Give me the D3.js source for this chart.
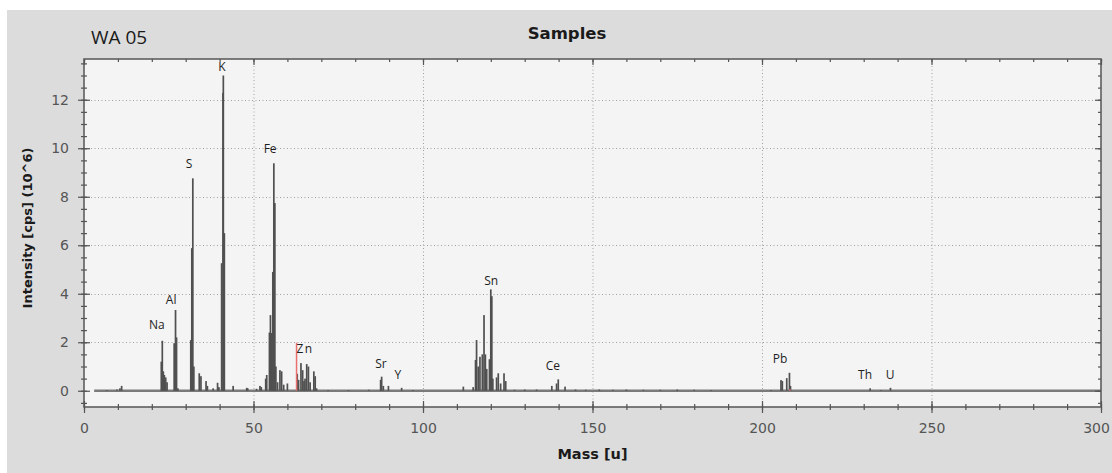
<!DOCTYPE html>
<html>
<head>
<meta charset="utf-8">
<script src="https://cdn.jsdelivr.net/npm/d3@7"></script>
<style>
  html, body { margin: 0; padding: 0; background: #ffffff; }
  svg { display: block; }
</style>
</head>
<body>
<script>
// spectrum sticks: [mass u, intensity 10^6 cps]
const spectrum = [
  [6.7, 0.03], [9.7, 0.05], [10.6, 0.1], [11.1, 0.2],
  [22.8, 1.2], [23.1, 2.06], [23.4, 0.8], [23.7, 0.65], [24.1, 0.55], [24.5, 0.35],
  [26.6, 1.96], [27.0, 3.33], [27.3, 2.2], [27.7, 0.1],
  [31.5, 2.09], [31.8, 5.88], [32.1, 8.76], [32.4, 1.0],
  [34.0, 0.72], [34.5, 0.6], [36.0, 0.4], [36.4, 0.2], [38.1, 0.1], [39.4, 0.33], [39.8, 0.15],
  [40.6, 5.26], [41.0, 12.28], [41.1, 13.0], [41.4, 6.5],
  [44.0, 0.2], [48.0, 0.12], [48.3, 0.1], [50.9, 0.08], [51.9, 0.2], [52.3, 0.15],
  [53.6, 0.5], [53.9, 0.65], [54.7, 2.4], [55.0, 3.12], [55.4, 2.38], [55.7, 4.9],
  [56.0, 9.38], [56.3, 7.74], [56.6, 1.0],
  [57.1, 0.35], [57.8, 0.85], [58.3, 0.8], [58.9, 0.25], [60.0, 0.3],
  [62.9, 0.7], [63.3, 0.45], [64.0, 1.14], [64.5, 0.85], [64.9, 0.4], [65.2, 0.5],
  [65.7, 1.1], [66.2, 1.0], [66.7, 0.35], [67.8, 0.8], [68.2, 0.6], [68.6, 0.1],
  [72.0, 0.03], [78.0, 0.03], [84.0, 0.04],
  [87.5, 0.45], [87.8, 0.58], [88.3, 0.2], [89.8, 0.2], [93.7, 0.12], [97.0, 0.03],
  [111.9, 0.17], [114.8, 0.15], [115.5, 1.27], [115.8, 2.09], [116.3, 1.0], [116.8, 1.4],
  [117.5, 1.5], [118.0, 3.12], [118.4, 1.5], [118.8, 0.9], [119.6, 1.3], [120.0, 4.18],
  [120.3, 3.9], [120.6, 0.5], [121.7, 0.55], [122.2, 0.72], [122.9, 0.3], [123.9, 0.72], [124.4, 0.4],
  [127, 0.04], [130, 0.05], [133.5, 0.05], [138.0, 0.2], [139.4, 0.3], [139.9, 0.47], [141.9, 0.17],
  [145, 0.05], [148, 0.04], [152, 0.05], [156, 0.04], [160, 0.05], [165, 0.04],
  [170, 0.04], [175, 0.05], [180, 0.04], [185, 0.03],
  [202.7, 0.03], [205.6, 0.44], [206.0, 0.4], [207.3, 0.52], [208.1, 0.74], [208.4, 0.2],
  [231.9, 0.1], [235.0, 0.03], [237.9, 0.12]
];

// red marker lines
const markers = [[62.7, 1.98], [208.2, 0.06]];

// element labels: [name, mass, intensity]
const peakLabels = [
  ["Na", 21.5, 2.54], ["Al", 25.7, 3.58], ["S", 31.0, 9.18], ["K", 40.7, 13.2],
  ["Fe", 54.9, 9.8], ["Zn", 65.2, 1.55], ["Sr", 87.6, 0.93], ["Y", 92.6, 0.48],
  ["Sn", 120.1, 4.36], ["Ce", 138.3, 0.85], ["Pb", 205.3, 1.14], ["Th", 230.4, 0.48],
  ["U", 237.8, 0.48]
];

const xTicks = [0, 50, 100, 150, 200, 250, 300];
const yTicks = [0, 2, 4, 6, 8, 10, 12];
const xDomain = [0, 300];
const yDomain = [-0.67, 13.68];

const width = 1112, height = 473;
const plot = { left: 84, right: 1101, top: 59, bottom: 407 };

const svg = d3.select("body").append("svg")
  .attr("width", width)
  .attr("height", height);

// grey panel
svg.append("rect")
  .attr("x", 7).attr("y", 10)
  .attr("width", width - 7).attr("height", height - 10)
  .attr("fill", "#dcdcdc");

const x = d3.scaleLinear().domain(xDomain).range([plot.left, plot.right]);
const y = d3.scaleLinear().domain(yDomain).range([plot.bottom, plot.top]);

svg.append("rect")
  .attr("x", plot.left).attr("y", plot.top)
  .attr("width", plot.right - plot.left).attr("height", plot.bottom - plot.top)
  .attr("fill", "#f4f4f4");

// dotted grid
const grid = svg.append("g").attr("stroke", "#a0a0a0").attr("stroke-width", 1)
  .attr("stroke-dasharray", "1,2.5");
grid.selectAll(".gx")
  .data(xTicks.filter(d => d > 0 && d < 300))
  .enter().append("line")
  .attr("x1", d => x(d) + 0.5).attr("x2", d => x(d) + 0.5)
  .attr("y1", plot.top).attr("y2", plot.bottom);
grid.selectAll(".gy")
  .data(yTicks.filter(d => d > 0))
  .enter().append("line")
  .attr("y1", d => Math.round(y(d)) + 0.5).attr("y2", d => Math.round(y(d)) + 0.5)
  .attr("x1", plot.left).attr("x2", plot.right);

// baseline of the spectrum
svg.append("line")
  .attr("x1", x(3)).attr("x2", plot.right)
  .attr("y1", y(0)).attr("y2", y(0))
  .attr("stroke", "#7a7a7a").attr("stroke-width", 2.5);

// spectrum sticks
svg.append("g").selectAll("rect")
  .data(spectrum)
  .enter().append("rect")
  .attr("x", d => x(d[0]) - 0.85)
  .attr("width", 1.7)
  .attr("y", d => y(d[1]))
  .attr("height", d => y(0) - y(d[1]))
  .attr("fill", "#505050");

// red markers
svg.append("g").selectAll("line")
  .data(markers)
  .enter().append("line")
  .attr("x1", d => x(d[0])).attr("x2", d => x(d[0]))
  .attr("y1", y(0)).attr("y2", d => y(d[1]))
  .attr("stroke", "#e87070").attr("stroke-width", 1.5);

// element labels
svg.append("g").selectAll("text")
  .data(peakLabels)
  .enter().append("text")
  .attr("x", d => x(d[1]))
  .attr("y", d => y(d[2]))
  .attr("text-anchor", "middle")
  .attr("font-family", "Open Sans, DejaVu Sans, sans-serif")
  .attr("font-size", 12)
  .attr("letter-spacing", d => d[0] === "Zn" ? 1.5 : 0)
  .attr("fill", "#1e1e1e")
  .text(d => d[0]);

// axes: major ticks both sides, minor ticks smaller
const frameColor = "#555555";
function styleAxis(g) {
  g.select(".domain").remove();
  g.selectAll("line").attr("stroke", frameColor).attr("stroke-width", 1.2);
  g.selectAll("text")
    .attr("font-family", "DejaVu Sans, sans-serif")
    .attr("font-size", 14)
    .attr("fill", "#555555");
}
const xMinor = d3.range(0, 301, 10);
const yMinor = d3.range(-0.5, 13.6, 0.5);

svg.append("g").attr("transform", `translate(0,${plot.bottom})`)
  .call(d3.axisBottom(x).tickValues(xTicks).tickSize(6).tickPadding(10).tickFormat(d3.format("d")))
  .call(styleAxis)
  .call(g => g.selectAll(".tick").filter(d => d === 300).select("text").attr("dx", -5));
svg.append("g").attr("transform", `translate(0,${plot.bottom})`)
  .call(d3.axisBottom(x).tickValues(xTicks).tickSize(-6).tickFormat(""))
  .call(styleAxis);
svg.append("g").attr("transform", `translate(0,${plot.bottom})`)
  .call(d3.axisBottom(x).tickValues(xMinor).tickSize(3).tickFormat(""))
  .call(styleAxis);
svg.append("g").attr("transform", `translate(0,${plot.bottom})`)
  .call(d3.axisBottom(x).tickValues(xMinor).tickSize(-3).tickFormat(""))
  .call(styleAxis);

svg.append("g").attr("transform", `translate(${plot.left},0)`)
  .call(d3.axisLeft(y).tickValues(yTicks).tickSize(6).tickPadding(9).tickFormat(d3.format("d")))
  .call(styleAxis);
svg.append("g").attr("transform", `translate(${plot.left},0)`)
  .call(d3.axisLeft(y).tickValues(yTicks).tickSize(-6).tickFormat(""))
  .call(styleAxis);
svg.append("g").attr("transform", `translate(${plot.left},0)`)
  .call(d3.axisLeft(y).tickValues(yMinor).tickSize(3).tickFormat(""))
  .call(styleAxis);
svg.append("g").attr("transform", `translate(${plot.left},0)`)
  .call(d3.axisLeft(y).tickValues(yMinor).tickSize(-3).tickFormat(""))
  .call(styleAxis);

// top and right: inward ticks only
svg.append("g").attr("transform", `translate(0,${plot.top})`)
  .call(d3.axisTop(x).tickValues(xTicks).tickSize(-6).tickFormat(""))
  .call(styleAxis);
svg.append("g").attr("transform", `translate(0,${plot.top})`)
  .call(d3.axisTop(x).tickValues(xMinor).tickSize(-3).tickFormat(""))
  .call(styleAxis);
svg.append("g").attr("transform", `translate(${plot.right},0)`)
  .call(d3.axisRight(y).tickValues(yTicks).tickSize(-6).tickFormat(""))
  .call(styleAxis);
svg.append("g").attr("transform", `translate(${plot.right},0)`)
  .call(d3.axisRight(y).tickValues(yMinor).tickSize(-3).tickFormat(""))
  .call(styleAxis);

// frame
svg.append("rect")
  .attr("x", plot.left).attr("y", plot.top)
  .attr("width", plot.right - plot.left).attr("height", plot.bottom - plot.top)
  .attr("fill", "none")
  .attr("stroke", frameColor).attr("stroke-width", 1.5);

// titles
svg.append("text")
  .attr("x", 567).attr("y", 39)
  .attr("text-anchor", "middle")
  .attr("font-family", "DejaVu Sans, sans-serif")
  .attr("font-weight", "bold")
  .attr("font-size", 16.5)
  .attr("fill", "#1a1a1a")
  .text("Samples");

svg.append("text")
  .attr("x", 91).attr("y", 44)
  .attr("font-family", "Open Sans, sans-serif")
  .attr("font-size", 19)
  .attr("fill", "#1a1a1a")
  .text("WA 05");

svg.append("text")
  .attr("x", (plot.left + plot.right) / 2).attr("y", 459)
  .attr("text-anchor", "middle")
  .attr("font-family", "DejaVu Sans, sans-serif")
  .attr("font-weight", "bold")
  .attr("font-size", 14.5)
  .attr("fill", "#1a1a1a")
  .text("Mass [u]");

svg.append("text")
  .attr("transform", "translate(32,228) rotate(-90)")
  .attr("text-anchor", "middle")
  .attr("font-family", "DejaVu Sans, sans-serif")
  .attr("font-weight", "bold")
  .attr("font-size", 13)
  .attr("fill", "#1a1a1a")
  .text("Intensity [cps] (10^6)");
</script>
</body>
</html>
